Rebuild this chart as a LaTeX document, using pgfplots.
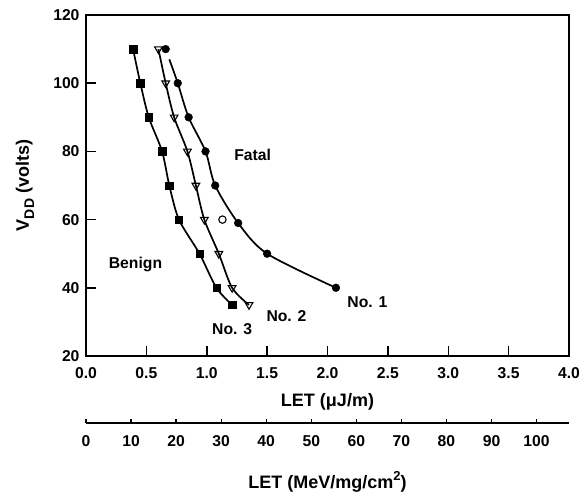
\documentclass[border=0pt]{standalone}
\usepackage{fontspec}
\setmainfont{Liberation Sans Bold}
\usepackage{pgfplots}
\pgfplotsset{compat=1.18}

\newcommand{\chartfont}{\fontsize{15.7bp}{18bp}\selectfont}
\newcommand{\labelfont}{\fontsize{18bp}{21bp}\selectfont}

% Threshold LET versus drain voltage for three devices
\pgfplotstableread{
x    y
0.39 110
0.45 100
0.52 90
0.63 80
0.69 70
0.77 60
0.94 50
1.08 40
1.21 35
}\devthree
\pgfplotstableread{
x    y
0.60 110
0.66 100
0.73 90
0.84 80
0.91 70
0.98 60
1.10 50
1.21 40
1.35 35
}\devtwo
\pgfplotstableread{
x    y
0.66 110
0.76 100
0.85 90
0.99 80
1.07 70
1.26 59
1.50 50
2.07 40
}\devone
% fitted curve for device 1
\pgfplotstableread{
x    y
0.69 107
0.76 100
0.85 90
0.99 80
1.07 70
1.26 59
1.50 50
2.07 40
}\devonefit

\begin{document}
\begin{tikzpicture}[font=\chartfont]
\useasboundingbox (-86bp,-136bp) rectangle (499bp,356bp);
\begin{axis}[
  at={(0,0)}, anchor=south west,
  scale only axis, width=483bp, height=341bp,
  xmin=0, xmax=4, ymin=20, ymax=120,
  xtick={0,0.5,...,4}, ytick={20,40,...,120},
  xtick pos=bottom, ytick pos=left,
  tick align=inside, major tick length=10bp,
  axis line style={line width=1.8bp},
  every tick/.style={line width=1.5bp, black},
  /pgf/number format/assume math mode=true,
  tick label style={font=\chartfont},
  xticklabel style={/pgf/number format/fixed, /pgf/number format/fixed zerofill, /pgf/number format/precision=1, yshift=-8bp},
  yticklabel style={xshift=-3bp},
  clip=false,
]
\addplot[black, line width=1.7bp, smooth] table {\devthree};
\addplot[only marks, mark=square*, mark size=3.7bp, black] table {\devthree};
\addplot[black, line width=1.7bp, smooth] table {\devtwo};
\addplot[only marks, mark=triangle, mark size=4.4bp, black, mark options={rotate=180, fill=white, line width=1.1bp}] table {\devtwo};
\addplot[black, line width=1.7bp, smooth] table {\devonefit};
\addplot[only marks, mark=*, mark size=3.9bp, black] table {\devone};
\addplot[only marks, mark=o, mark size=3.7bp, black, mark options={line width=1.1bp}] coordinates {(1.13,60)};

\node at (axis cs:1.38,79) {Fatal};
\node at (axis cs:0.41,46.7) {Benign};
\node at (axis cs:2.33,35.9) {No. 1};
\node at (axis cs:1.66,31.8) {No. 2};
\node at (axis cs:1.21,28.0) {No. 3};
\end{axis}

% second scale: LET in MeV cm^2/mg (1 uJ/m = 26.8 MeV cm^2/mg in Si)
\begin{axis}[
  at={(0,-67bp)}, anchor=south west,
  scale only axis, width=483bp, height=10bp,
  xmin=0, xmax=107.2, ymin=0, ymax=1,
  axis x line*=bottom, axis y line=none,
  xtick={0,10,...,100},
  tick align=inside, major tick length=4bp,
  axis line style={line width=1.5bp},
  every tick/.style={line width=1.3bp, black},
  /pgf/number format/assume math mode=true,
  tick label style={font=\chartfont},
  xticklabel style={yshift=-9bp},
]
\end{axis}

\node[font=\labelfont] at (241.5bp,-46bp) {LET (μJ/m)};
\node[font=\labelfont] at (241.5bp,-126bp) {LET (MeV/mg/cm\raisebox{0.45em}{\fontsize{13bp}{14bp}\selectfont 2})};
\node[font=\labelfont, rotate=90] at (-61bp,170.5bp) {V\raisebox{-0.3em}{\fontsize{14bp}{15bp}\selectfont DD} (volts)};
\end{tikzpicture}
\end{document}
